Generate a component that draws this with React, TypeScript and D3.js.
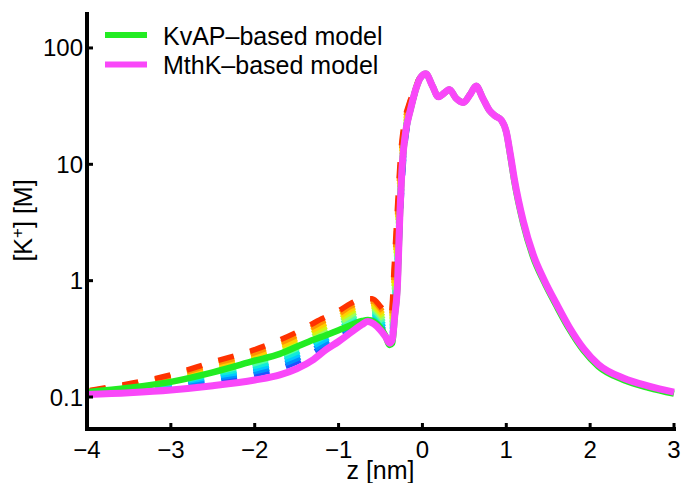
import React from "react";
import * as d3 from "d3";

// ---- data ----
const xTicks = [-4, -3, -2, -1, 0, 1, 2, 3];
const xTickLabels = ["\u22124", "\u22123", "\u22122", "\u22121", "0", "1", "2", "3"];
const yTicks = [0.1, 1, 10, 100];
const yTickLabels = ["0.1", "1", "10", "100"];
const legendLabels = ["KvAP\u2013based model", "MthK\u2013based model"];

const zSolid = [-4, -3.5, -3, -2.5, -2, -1.7, -1.5, -1.3, -1.15, -1, -0.85, -0.72, -0.65, -0.58, -0.5, -0.44, -0.39, -0.36, -0.33, -0.3, -0.27, -0.24, -0.2, -0.14, -0.08, -0.02, 0.04, 0.12, 0.19, 0.26, 0.32, 0.4, 0.49, 0.57, 0.64, 0.72, 0.8, 0.87, 0.94, 1.0, 1.05, 1.1, 1.2, 1.32, 1.45, 1.6, 1.75, 1.92, 2.1, 2.4, 2.7, 3.0];

const mthkValues = [0.105, 0.109, 0.115, 0.125, 0.14, 0.155, 0.175, 0.21, 0.255, 0.3, 0.36, 0.42, 0.445, 0.425, 0.375, 0.33, 0.29, 0.31, 0.5, 0.85, 3.5, 10, 19, 30, 44, 56, 60, 47, 38, 41, 44, 37, 34, 40, 47, 37, 29, 26, 24, 19, 12, 7.2, 3.3, 1.68, 1.02, 0.63, 0.4, 0.262, 0.19, 0.145, 0.124, 0.11];

const kvapValues = [0.11, 0.12, 0.135, 0.163, 0.205, 0.235, 0.27, 0.31, 0.34, 0.375, 0.415, 0.45, 0.46, 0.445, 0.395, 0.335, 0.28, 0.29, 0.5, 0.85, 3.5, 10, 19, 30, 44, 56, 60, 47, 38, 41, 44, 37, 34, 40, 47, 37, 29, 26, 24, 19, 11.6, 6.9, 3.15, 1.6, 0.98, 0.605, 0.385, 0.252, 0.183, 0.14, 0.12, 0.107];

const zDashed = [-4, -3.5, -3, -2.5, -2, -1.5, -1.2, -1, -0.85, -0.7, -0.6, -0.5, -0.44, -0.4, -0.37, -0.34, -0.3, -0.26, -0.22, -0.16, -0.1, -0.04, 0.02];

const dashed0 = [0.106, 0.113, 0.122, 0.138, 0.156, 0.2, 0.265, 0.32, 0.38, 0.44, 0.45, 0.4, 0.34, 0.3, 0.29, 0.4, 0.9, 4, 12, 25, 38, 52, 59];
const dashed1 = [0.107, 0.115, 0.125, 0.144, 0.165, 0.213, 0.282, 0.34, 0.403, 0.463, 0.473, 0.418, 0.357, 0.318, 0.309, 0.45, 1.06, 4.5, 12.8, 25.8, 38.5, 52.2, 59];
const dashed2 = [0.108, 0.117, 0.129, 0.15, 0.174, 0.228, 0.301, 0.361, 0.427, 0.488, 0.497, 0.438, 0.375, 0.336, 0.33, 0.51, 1.25, 5.1, 13.7, 26.6, 39.1, 52.4, 59];
const dashed3 = [0.109, 0.119, 0.132, 0.156, 0.184, 0.243, 0.321, 0.383, 0.452, 0.514, 0.521, 0.458, 0.394, 0.356, 0.352, 0.58, 1.48, 5.8, 14.7, 27.4, 39.6, 52.7, 59];
const dashed4 = [0.109, 0.121, 0.136, 0.163, 0.194, 0.26, 0.342, 0.407, 0.479, 0.541, 0.548, 0.479, 0.414, 0.376, 0.376, 0.65, 1.75, 6.5, 15.7, 28.3, 40.1, 52.9, 59];
const dashed5 = [0.11, 0.122, 0.139, 0.17, 0.205, 0.277, 0.364, 0.432, 0.507, 0.569, 0.575, 0.501, 0.435, 0.398, 0.401, 0.74, 2.06, 7.4, 16.8, 29.2, 40.7, 53.1, 59];
const dashed6 = [0.111, 0.124, 0.143, 0.177, 0.216, 0.296, 0.388, 0.459, 0.538, 0.599, 0.604, 0.524, 0.457, 0.422, 0.428, 0.83, 2.43, 8.3, 18, 30.1, 41.3, 53.3, 59];
const dashed7 = [0.112, 0.126, 0.147, 0.184, 0.228, 0.316, 0.414, 0.487, 0.57, 0.631, 0.635, 0.548, 0.48, 0.446, 0.457, 0.94, 2.87, 9.4, 19.2, 31, 41.8, 53.6, 59];
const dashed8 = [0.112, 0.128, 0.151, 0.192, 0.241, 0.337, 0.441, 0.518, 0.604, 0.665, 0.667, 0.573, 0.504, 0.472, 0.487, 1.06, 3.39, 10.6, 20.6, 32, 42.4, 53.8, 59];
const dashed9 = [0.113, 0.13, 0.155, 0.2, 0.255, 0.36, 0.47, 0.55, 0.64, 0.7, 0.7, 0.6, 0.53, 0.5, 0.52, 1.2, 4, 12, 22, 33, 43, 54, 59];

const dashedSeries = [dashed0, dashed1, dashed2, dashed3, dashed4, dashed5, dashed6, dashed7, dashed8, dashed9];
const dashedColors = ["#1f50ff", "#0090ff", "#00c8ff", "#10ecd8", "#50ffa8", "#98ff60", "#d2f510", "#ffd000", "#ff9400", "#ff3200"];

const GREEN = "#22ec22";
const MAGENTA = "#f947f9";
const FONT = "'Liberation Sans', Arial, Helvetica, sans-serif";

export default function App() {
  const W = 682, H = 483;
  const left = 87, right = 674, top = 12, bottom = 429;
  const x = d3.scaleLinear().domain([-4, 3]).range([left, right]);
  const y = d3.scaleLog().domain([0.0531, 203.7]).range([bottom, top]);

  const line = (zs: number[], vs: number[]) =>
    d3.line<number>()
      .x((_, i) => x(zs[i]))
      .y((v) => y(v))
      .curve(d3.curveMonotoneX)(vs) as string;

  return (
    <svg width={W} height={H} style={{ position: "absolute", left: 0, top: 0, background: "#fff" }} fontFamily={FONT}>
      <rect x={0} y={0} width={W} height={H} fill="#fff" />
      {dashedSeries.map((vals, k) => (
        <path key={k} d={line(zDashed, vals)} fill="none" stroke={dashedColors[k]} strokeWidth={5.5}
          strokeDasharray="16 17" strokeDashoffset={30} strokeLinejoin="round" />
      ))}
      <path d={line(zSolid, kvapValues)} fill="none" stroke={GREEN} strokeWidth={6.5} strokeLinejoin="round" />
      <path d={line(zSolid, mthkValues)} fill="none" stroke={MAGENTA} strokeWidth={7} strokeLinejoin="round" />

      {/* axes */}
      <line x1={left} x2={left} y1={top} y2={bottom + 2} stroke="#000" strokeWidth={4} />
      <line x1={left - 2} x2={right + 2} y1={bottom} y2={bottom} stroke="#000" strokeWidth={4} />
      {xTicks.map((t, i) => (
        <g key={t}>
          <line x1={x(t)} x2={x(t)} y1={bottom} y2={bottom - 6} stroke="#000" strokeWidth={3} />
          <text x={x(t)} y={458} textAnchor="middle" fontSize={24} fill="#000">{xTickLabels[i]}</text>
        </g>
      ))}
      {yTicks.map((t, i) => (
        <g key={t}>
          <line x1={left} x2={left + 6} y1={y(t)} y2={y(t)} stroke="#000" strokeWidth={3} />
          <text x={83} y={y(t) + 8.5} textAnchor="end" fontSize={24} fill="#000">{yTickLabels[i]}</text>
        </g>
      ))}
      <text x={(left + right) / 2} y={479} textAnchor="middle" fontSize={25} fill="#000">z [nm]</text>
      <text transform={`translate(32, ${(top + bottom) / 2}) rotate(-90)`} textAnchor="middle" fontSize={25} fill="#000">
        [K<tspan dy={-9} fontSize={17}>+</tspan><tspan dy={9}>] [M]</tspan>
      </text>

      {/* legend */}
      {[GREEN, MAGENTA].map((c, i) => (
        <g key={i}>
          <line x1={105} x2={147} y1={35 + i * 29.5} y2={35 + i * 29.5} stroke={c} strokeWidth={6} />
          <text x={163} y={45 + i * 28.5} fontSize={25} fill="#000">{legendLabels[i]}</text>
        </g>
      ))}
    </svg>
  );
}
